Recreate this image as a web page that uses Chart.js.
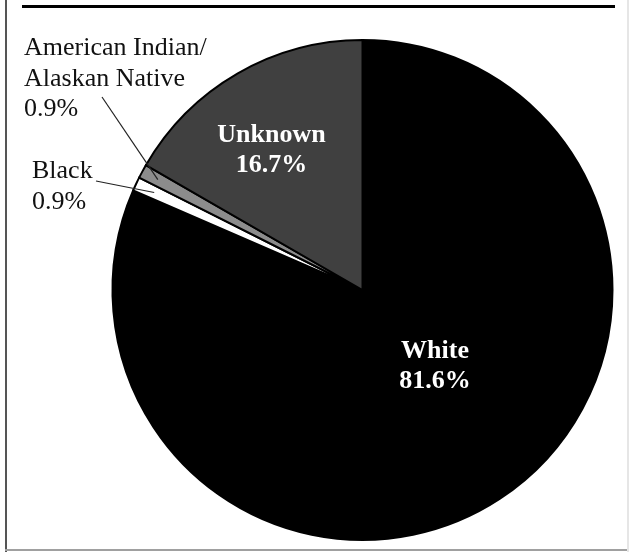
<!DOCTYPE html>
<html>
<head>
<meta charset="utf-8">
<script src="https://cdn.jsdelivr.net/npm/chart.js@4.4.0/dist/chart.umd.min.js"></script>
<style>
html,body{margin:0;padding:0;background:#fff;}
#wrap{position:relative;width:629px;height:552px;}
canvas{display:block;}
</style>
</head>
<body>
<div id="wrap"><canvas id="c" width="629" height="552"></canvas></div>
<script>
const categories = ["White", "Black", "American Indian/Alaskan Native", "Unknown"];
const values = [81.6, 0.9, 0.9, 16.7];
const valueLabels = ["81.6%", "0.9%", "0.9%", "16.7%"];
const sliceColors = ["#000000", "#ffffff", "#8c8c8c", "#404040"];

const serif = '"Liberation Serif", "Times New Roman", serif';

const labelPlugin = {
  id: 'labels',
  afterDraw(chart) {
    const ctx = chart.ctx;
    const arcs = chart.getDatasetMeta(0).data;
    const cx = arcs[0].x, cy = arcs[0].y, R = arcs[0].outerRadius;
    ctx.save();
    // frame
    ctx.fillStyle = '#555';
    ctx.fillRect(5, 0, 2, 552);
    ctx.fillStyle = '#a0a0a0';
    ctx.fillRect(5, 549, 624, 2);
    ctx.fillStyle = '#e6e6e6';
    ctx.fillRect(627, 0, 2, 552);
    ctx.fillStyle = '#000';
    ctx.fillRect(22, 5, 593, 3);

    // inner labels (bold white)
    ctx.fillStyle = '#ffffff';
    ctx.font = 'bold 26px ' + serif;
    ctx.textAlign = 'center';
    ctx.textBaseline = 'alphabetic';
    // White
    const wx = cx + 0.29 * R, wy = cy + 0.27 * R;
    ctx.fillText(categories[0], wx, wy);
    ctx.fillText(valueLabels[0], wx, wy + 30);
    // Unknown
    const ux = cx - 0.364 * R, uy = cy - 0.592 * R;
    ctx.fillText(categories[3], ux, uy);
    ctx.fillText(valueLabels[3], ux, uy + 30);

    // outside labels
    ctx.fillStyle = '#111';
    ctx.font = '26px ' + serif;
    ctx.textAlign = 'left';
    ctx.fillText('American Indian/', 24, 55);
    ctx.fillText('Alaskan Native', 24, 86);
    ctx.fillText(valueLabels[2], 24, 116);
    ctx.fillText(categories[1], 32, 178);
    ctx.fillText(valueLabels[1], 32, 209);

    // leader lines
    function midPoint(arc, frac) {
      const a = (arc.startAngle + arc.endAngle) / 2;
      return [cx + Math.cos(a) * R * frac, cy + Math.sin(a) * R * frac];
    }
    ctx.strokeStyle = '#222';
    ctx.lineWidth = 1.2;
    let p = midPoint(arcs[2], 0.93);
    ctx.beginPath(); ctx.moveTo(102, 97); ctx.lineTo(p[0], p[1]); ctx.stroke();
    p = midPoint(arcs[1], 0.92);
    ctx.beginPath(); ctx.moveTo(96, 181); ctx.lineTo(p[0], p[1]); ctx.stroke();
    ctx.restore();
  }
};

new Chart(document.getElementById('c'), {
  type: 'pie',
  data: {
    labels: categories,
    datasets: [{
      data: values,
      backgroundColor: sliceColors,
      borderColor: '#000000',
      borderWidth: 2,
      borderJoinStyle: 'miter'
    }]
  },
  options: {
    responsive: false,
    animation: false,
    layout: { padding: { left: 111, right: 15, top: 39, bottom: 11 } },
    plugins: {
      legend: { display: false },
      tooltip: { enabled: false },
      title: { display: false }
    }
  },
  plugins: [labelPlugin]
});
</script>
</body>
</html>
